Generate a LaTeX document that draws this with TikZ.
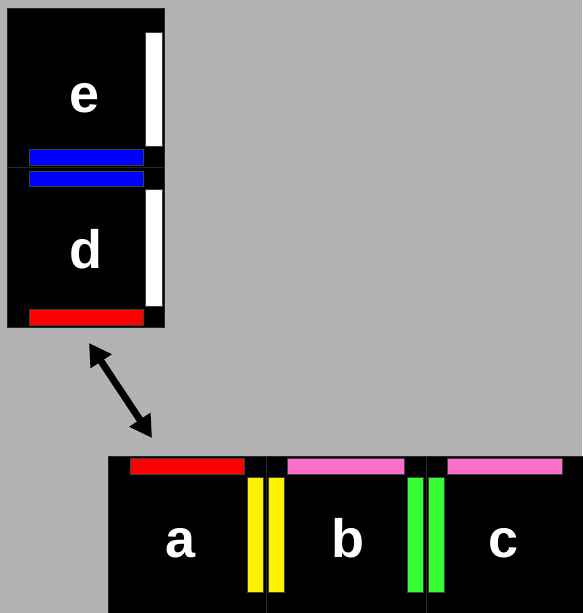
\documentclass[tikz,border=0pt]{standalone}
\usepackage{fontspec}
\setmainfont{Liberation Sans}
\usetikzlibrary{arrows.meta}
\definecolor{bg}{HTML}{B3B3B3}
\definecolor{tileedge}{HTML}{262626}
\definecolor{pinkbar}{HTML}{FF6ECC}
\definecolor{greenbar}{HTML}{33FF33}
\tikzset{
  tile/.style={draw=tileedge, line width=0.8pt, fill=black, inner sep=0pt},
  bar/.style={draw=black!75, line width=0.4pt},
  lbl/.style={text=white, font=\fontsize{54}{54}\selectfont\bfseries, inner sep=0pt, anchor=base},
  link/.style={line width=7pt, {Triangle[length=22pt,width=24pt]}-{Triangle[length=22pt,width=24pt]}}
}
\begin{document}
\begin{tikzpicture}[x=1pt,y=-1pt]
\useasboundingbox (0,0) rectangle (582,613);
\fill[bg] (0,0) rectangle (582,613);
% tiles
\draw[tile] (7,8) rectangle (164,167);
\draw[tile] (7,167) rectangle (164,327);
\draw[tile] (108,456) rectangle (266,620);
\draw[tile] (266,456) rectangle (426,620);
\draw[tile] (426,456) rectangle (590,620);
% tile e bars
\filldraw[fill=white, bar] (145,32) rectangle (162,146);
\filldraw[fill=blue, bar] (29,149) rectangle (143,165);
% tile d bars
\filldraw[fill=blue, bar] (29,171) rectangle (143,186);
\filldraw[fill=white, bar] (145,189) rectangle (162,306);
\filldraw[fill=red, bar] (29,309) rectangle (143,325);
% tile a bars
\filldraw[fill=red, bar] (130,458) rectangle (244,474);
\filldraw[fill=yellow, bar] (247,477) rectangle (263,592);
% tile b bars
\filldraw[fill=pinkbar, bar] (287,458) rectangle (404,474);
\filldraw[fill=yellow, bar] (268,477) rectangle (284,592);
\filldraw[fill=greenbar, bar] (407,477) rectangle (423,592);
% tile c bars
\filldraw[fill=pinkbar, bar] (447,458) rectangle (562,474);
\filldraw[fill=greenbar, bar] (428,477) rectangle (444,592);
% labels
\node[lbl] (e) at (85,112) {e};
\node[lbl] (d) at (86,268) {d};
\node[lbl] (a) at (181,557) {a};
\node[lbl] (b) at (348,557) {b};
\node[lbl] (c) at (504,557) {c};
% connector
\coordinate (p) at (89,343);
\coordinate (q) at (152,438);
\draw[link] (p) -- (q);
\end{tikzpicture}
\end{document}
